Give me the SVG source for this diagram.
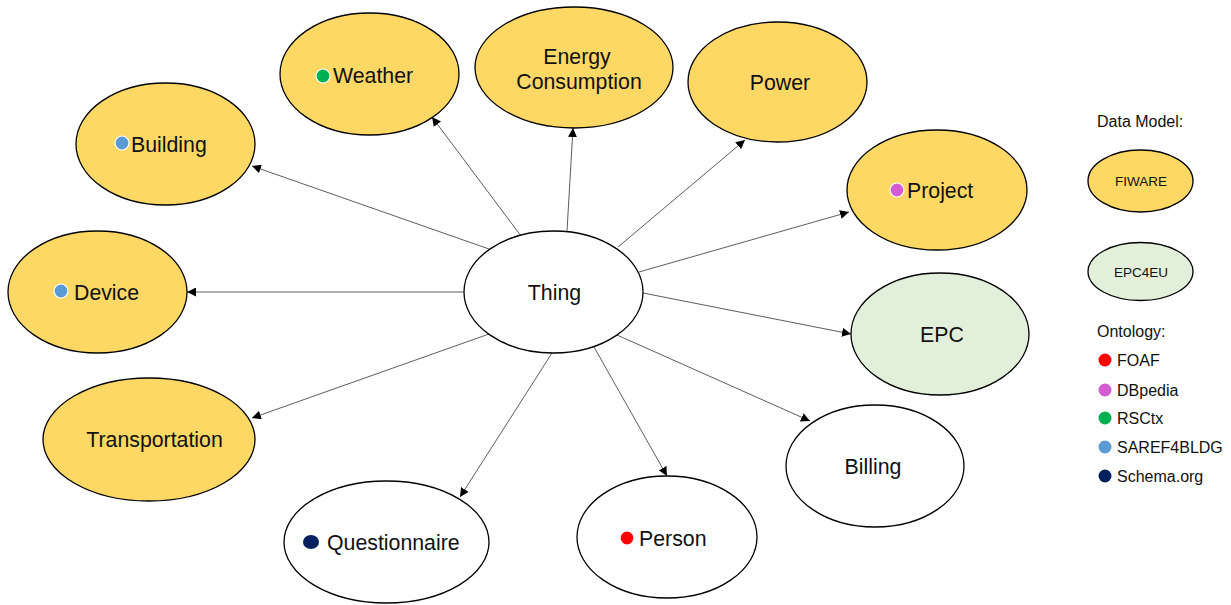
<svg xmlns="http://www.w3.org/2000/svg" width="1231" height="605" viewBox="0 0 1231 605">
<defs>
<marker id="arr" viewBox="0 0 10 10" refX="10" refY="5" markerWidth="9" markerHeight="9" markerUnits="userSpaceOnUse" orient="auto">
<path d="M0,0 L10,5 L0,10 z" fill="#000"/>
</marker>
<style>
.n{stroke:#000;stroke-width:1.3}
.y{fill:#FDD865}
.g{fill:#E2EFDA}
.w{fill:#fff}
.t{font-family:"Liberation Sans",Arial,sans-serif;font-size:21.3px;fill:#111}
.l{font-family:"Liberation Sans",Arial,sans-serif;font-size:16px;fill:#111}
.s{font-family:"Liberation Sans",Arial,sans-serif;font-size:13.5px;fill:#111}
.c line{stroke:#333;stroke-width:0.8;marker-end:url(#arr)}
.d{stroke:#fff;stroke-width:1.2}
</style>
</defs>
<rect width="1231" height="605" fill="#fff"/>
<g class="c" id="connectors">
<line x1="521" y1="236" x2="432" y2="117"/>
<line x1="567" y1="231" x2="573" y2="128"/>
<line x1="618" y1="247" x2="745" y2="140"/>
<line x1="639" y1="272" x2="849" y2="212"/>
<line x1="643" y1="293" x2="851" y2="334"/>
<line x1="617" y1="335" x2="810" y2="421"/>
<line x1="594" y1="347" x2="667" y2="476"/>
<line x1="552" y1="353" x2="460" y2="497"/>
<line x1="489" y1="334" x2="252" y2="418"/>
<line x1="464" y1="292" x2="187" y2="292"/>
<line x1="489" y1="249" x2="252" y2="166"/>
</g>
<g id="thing">
<ellipse class="n w" cx="553.5" cy="292" rx="89.5" ry="61"/>
<text class="t" x="554.5" y="300" text-anchor="middle">Thing</text>
</g>
<g id="weather">
<ellipse class="n y" cx="369.5" cy="74" rx="89.5" ry="61"/>
<circle class="d" cx="323" cy="76" r="7" fill="#00B050"/>
<text class="t" x="333" y="83">Weather</text>
</g>
<g id="energy">
<ellipse class="n y" cx="574" cy="67.5" rx="99" ry="60.5"/>
<text class="t" x="577" y="64" text-anchor="middle">Energy</text>
<text class="t" x="579" y="89" text-anchor="middle">Consumption</text>
</g>
<g id="power">
<ellipse class="n y" cx="777.5" cy="82" rx="89.5" ry="60"/>
<text class="t" x="780" y="90" text-anchor="middle">Power</text>
</g>
<g id="building">
<ellipse class="n y" cx="165.5" cy="144" rx="89.5" ry="61"/>
<circle class="d" cx="122" cy="143" r="7" fill="#5B9BD5"/>
<text class="t" x="131" y="152">Building</text>
</g>
<g id="project">
<ellipse class="n y" cx="937" cy="190" rx="90" ry="60"/>
<circle class="d" cx="897" cy="190" r="7" fill="#D35CD3"/>
<text class="t" x="907" y="198">Project</text>
</g>
<g id="device">
<ellipse class="n y" cx="97.5" cy="292" rx="89.5" ry="61"/>
<circle class="d" cx="61" cy="291" r="7" fill="#5B9BD5"/>
<text class="t" x="74" y="300">Device</text>
</g>
<g id="epc">
<ellipse class="n g" cx="940" cy="334" rx="89" ry="61"/>
<text class="t" x="942" y="342" text-anchor="middle">EPC</text>
</g>
<g id="transportation">
<ellipse class="n y" cx="149" cy="439.5" rx="106" ry="61.5"/>
<text class="t" x="154.5" y="447" text-anchor="middle">Transportation</text>
</g>
<g id="billing">
<ellipse class="n w" cx="875" cy="466" rx="89" ry="61"/>
<text class="t" x="873" y="474" text-anchor="middle">Billing</text>
</g>
<g id="questionnaire">
<ellipse class="n w" cx="386.5" cy="542" rx="102.5" ry="61"/>
<ellipse cx="311" cy="542" rx="8" ry="7" fill="#002060"/>
<text class="t" x="327" y="550">Questionnaire</text>
</g>
<g id="person">
<ellipse class="n w" cx="667" cy="537" rx="90" ry="61"/>
<circle class="d" cx="627" cy="538" r="7" fill="#FF0000"/>
<text class="t" x="639" y="546">Person</text>
</g>
<g id="legend">
<text class="l" x="1097" y="127">Data Model:</text>
<ellipse class="n y" cx="1140.5" cy="181" rx="52.5" ry="31" stroke-width="1"/>
<text class="s" x="1141" y="186" text-anchor="middle">FIWARE</text>
<ellipse class="n g" cx="1140.5" cy="271.5" rx="52.5" ry="29" stroke-width="1"/>
<text class="s" x="1141" y="277" text-anchor="middle">EPC4EU</text>
<text class="l" x="1097" y="337">Ontology:</text>
<circle cx="1105" cy="360" r="6.5" fill="#FF0000"/>
<text class="l" x="1117" y="366">FOAF</text>
<circle cx="1105" cy="390" r="6.5" fill="#D35CD3"/>
<text class="l" x="1117" y="396">DBpedia</text>
<circle cx="1105" cy="418" r="6.5" fill="#00B050"/>
<text class="l" x="1117" y="424">RSCtx</text>
<circle cx="1105" cy="447" r="6.5" fill="#5B9BD5"/>
<text class="l" x="1117" y="453">SAREF4BLDG</text>
<circle cx="1105" cy="476" r="6.5" fill="#002060"/>
<text class="l" x="1117" y="482">Schema.org</text>
</g>
</svg>
